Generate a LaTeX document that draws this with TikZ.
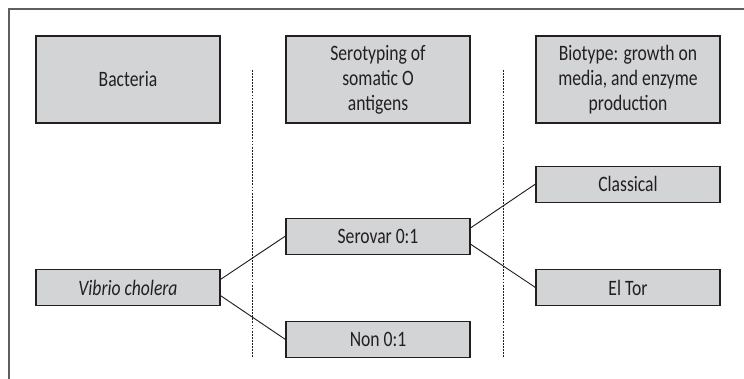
\documentclass[tikz,border=0pt]{standalone}
\usepackage{fontspec}
\setmainfont{Carlito}[FakeStretch=0.8]
\usetikzlibrary{positioning}
\definecolor{boxgray}{RGB}{211,212,214}
\definecolor{inkgray}{RGB}{35,31,32}
\definecolor{framegray}{RGB}{95,95,95}

\begin{document}
\begin{tikzpicture}[
    x=0.75pt, y=-0.75pt,
    node distance=187.5pt,
    font=\fontsize{16.5pt}{18.75pt}\selectfont,
    headbox/.style={rectangle, draw=inkgray, fill=boxgray, line width=0.8pt, text=inkgray, minimum width=138pt, minimum height=65.25pt, inner sep=0pt, align=center},
    taxbox/.style={rectangle, draw=inkgray, fill=boxgray, line width=0.8pt, text=inkgray, minimum width=138pt, minimum height=27pt, inner sep=0pt, align=center},
    link/.style={draw=inkgray, line width=0.7pt},
    divider/.style={draw=inkgray, line width=0.65pt, dash pattern=on 1.4pt off 0.9pt}
]
    \useasboundingbox (0,0) rectangle (744,379);

    % outer frame (cut by the page edge)
    \draw[framegray, line width=1.1pt] (9,379) -- (9,9) -- (744,9);

    % Column headings
    \node[headbox] (bac) at (128,79.5) {Bacteria};
    \node[headbox, right of=bac] (serohead) {Serotyping of\\somatic O\\antigens};
    \node[headbox, right of=serohead] (biohead) {Biotype: growth on\\media, and enzyme\\production};

    % Dividers
    \coordinate (d1top) at (252,70);
    \coordinate (d1bot) at (252,357);
    \coordinate (d2top) at (503,70);
    \coordinate (d2bot) at (503,357);
    \draw[divider] (d1top) -- (d1bot);
    \draw[divider] (d2top) -- (d2bot);

    % Bacteria
    \node[taxbox, below of=bac, node distance=156pt] (vib) {\itshape Vibrio cholera};

    % Serotypes
    \node[taxbox, below of=serohead, node distance=117.4pt] (serovar) {Serovar 0:1};
    \node[taxbox, below of=serovar, node distance=77.6pt] (non) {Non 0:1};

    % Biotypes
    \node[taxbox, below of=biohead, node distance=78.4pt] (clas) {Classical};
    \node[taxbox, below of=clas, node distance=77.6pt] (eltor) {El Tor};

    % Links
    \draw[link] (vib.5) -- (serovar.west);
    \draw[link] (vib.-5) -- (non.west);
    \draw[link] (serovar.5) -- (clas.west);
    \draw[link] (serovar.-5) -- (eltor.west);

\end{tikzpicture}
\end{document}
